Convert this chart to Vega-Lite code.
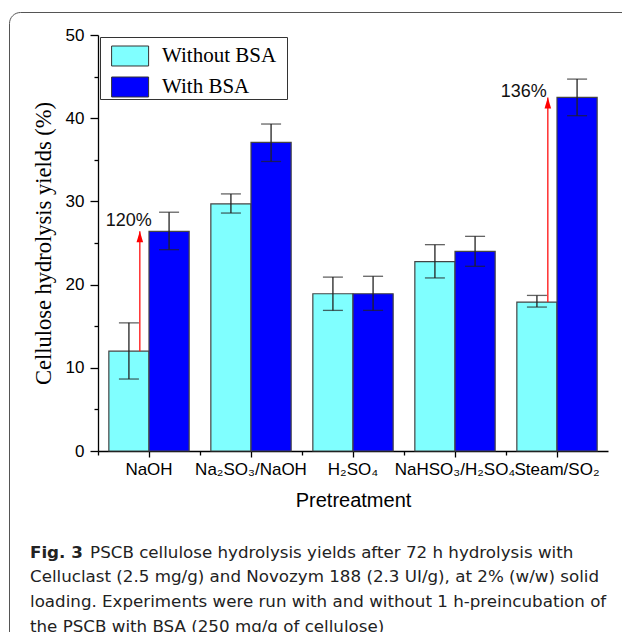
{
  "$schema": "https://vega.github.io/schema/vega-lite/v6.json",
  "width": 510,
  "height": 416,
  "autosize": {"type": "none"},
  "padding": {"left": 98, "top": 35, "right": 14, "bottom": 181},
  "background": "white",
  "datasets": {
    "bars": [
      {"pretreatment": "NaOH", "series": "Without BSA", "value": 12.0, "low": 8.65, "high": 15.4},
      {"pretreatment": "NaOH", "series": "With BSA", "value": 26.4, "low": 24.2, "high": 28.7},
      {"pretreatment": "Na₂SO₃/NaOH", "series": "Without BSA", "value": 29.7, "low": 28.6, "high": 30.9},
      {"pretreatment": "Na₂SO₃/NaOH", "series": "With BSA", "value": 37.1, "low": 34.8, "high": 39.3},
      {"pretreatment": "H₂SO₄", "series": "Without BSA", "value": 18.9, "low": 16.9, "high": 20.9},
      {"pretreatment": "H₂SO₄", "series": "With BSA", "value": 18.9, "low": 16.9, "high": 21.0},
      {"pretreatment": "NaHSO₃/H₂SO₄", "series": "Without BSA", "value": 22.75, "low": 20.8, "high": 24.8},
      {"pretreatment": "NaHSO₃/H₂SO₄", "series": "With BSA", "value": 24.0, "low": 22.2, "high": 25.8},
      {"pretreatment": "Steam/SO₂", "series": "Without BSA", "value": 17.9, "low": 17.3, "high": 18.7},
      {"pretreatment": "Steam/SO₂", "series": "With BSA", "value": 42.5, "low": 40.3, "high": 44.7}
    ],
    "notes": [
      {"pretreatment": "NaOH", "from": 12.0, "to": 26.4, "label": "120%", "label_y": 27.0},
      {"pretreatment": "Steam/SO₂", "from": 17.9, "to": 42.5, "label": "136%", "label_y": 42.5}
    ]
  },
  "title": {
    "text": "Fig. 3",
    "subtitle": [
      "\u200b\u2003\u2003\u2003\u2002\u200aPSCB cellulose hydrolysis yields after 72 h hydrolysis with",
      "Celluclast (2.5 mg/g) and Novozym 188 (2.3 UI/g), at 2% (w/w) solid",
      "loading. Experiments were run with and without 1 h-preincubation of",
      "the PSCB with BSA (250 mg/g of cellulose)"
    ],
    "orient": "bottom",
    "anchor": "start",
    "frame": "group",
    "dx": -68,
    "offset": -150,
    "font": "DejaVu Sans",
    "fontSize": 16.7,
    "fontWeight": "bold",
    "color": "#222",
    "subtitleFont": "DejaVu Sans",
    "subtitleFontSize": 16.7,
    "subtitleFontWeight": "normal",
    "subtitleColor": "#222",
    "subtitleLineHeight": 24.8,
    "subtitlePadding": -16.7
  },
  "layer": [
    {
      "data": {"name": "bars"},
      "mark": {"type": "bar", "stroke": "#444", "strokeWidth": 1.2},
      "encoding": {
        "x": {
          "field": "pretreatment", "type": "nominal", "sort": null,
          "scale": {"paddingInner": 0, "paddingOuter": 0},
          "axis": {
            "orient": "bottom", "title": "Pretreatment", "labelAngle": 0,
            "tickSize": 6, "labelPadding": 4, "labelFontSize": 17,
            "titleFontSize": 20, "titleFontWeight": "normal", "titlePadding": 13,
            "labelOverlap": false, "labelBound": false, "labelFlush": false,
            "domainColor": "#000", "tickColor": "#000", "labelColor": "#000", "titleColor": "#000",
            "domainWidth": 1.3, "tickWidth": 1.3
          }
        },
        "xOffset": {"field": "series", "type": "nominal", "sort": null, "scale": {"domain": ["Without BSA", "With BSA"], "paddingOuter": 0.27, "paddingInner": 0}},
        "y": {
          "field": "value", "type": "quantitative",
          "scale": {"domain": [0, 50], "nice": false},
          "axis": {
            "title": "Cellulose hydrolysis yields (%)",
            "values": [0, 5, 10, 15, 20, 25, 30, 35, 40, 45, 50],
            "labelExpr": "datum.value % 10 === 0 ? datum.label : ''",
            "tickSize": {"condition": {"test": "datum.value % 10 === 0", "value": 8}, "value": 4},
            "grid": false, "labelPadding": 6, "labelFontSize": 17,
            "titleFont": "Liberation Serif", "titleFontSize": 22.5, "titleFontWeight": "normal", "titlePadding": 10,
            "domainColor": "#000", "tickColor": "#000", "labelColor": "#000", "titleColor": "#000",
            "domainWidth": 1.3, "tickWidth": 1.3
          }
        },
        "fill": {
          "field": "series", "type": "nominal", "sort": null,
          "scale": {"domain": ["Without BSA", "With BSA"], "range": ["#80FFFF", "#0000FF"]},
          "legend": {
            "title": null, "orient": "none", "legendX": 2, "legendY": 2, "padding": 0,
            "symbolType": "M-0.4,-0.54L1.6,-0.54L1.6,0.54L-0.4,0.54Z", "symbolSize": 1369,
            "symbolStrokeColor": "#333", "symbolStrokeWidth": 1,
            "labelFont": "Liberation Serif", "labelFontSize": 21, "labelColor": "#000",
            "labelExpr": "datum.label + '\u2002\u200b'",
            "labelOffset": 24, "rowPadding": -2,
            "strokeColor": "#333", "fillColor": "white", "cornerRadius": 0
          }
        }
      }
    },
    {
      "data": {"name": "bars"},
      "mark": {"type": "rule", "color": "#222", "strokeWidth": 1.3},
      "encoding": {
        "x": {
          "field": "pretreatment", "type": "nominal", "sort": null,
          "axis": {
            "orient": "bottom", "bandPosition": 0, "labels": false, "domain": false, "title": null,
            "tickSize": 4, "tickColor": "#000", "tickWidth": 1.3
          }
        },
        "xOffset": {"field": "series", "type": "nominal", "sort": null},
        "y": {"field": "low", "type": "quantitative"},
        "y2": {"field": "high"}
      }
    },
    {
      "data": {"name": "bars"},
      "mark": {"type": "tick", "color": "#222", "size": 20, "thickness": 1.3},
      "encoding": {
        "x": {"field": "pretreatment", "type": "nominal", "sort": null, "axis": null},
        "xOffset": {"field": "series", "type": "nominal", "sort": null},
        "y": {"field": "low", "type": "quantitative"}
      }
    },
    {
      "data": {"name": "bars"},
      "mark": {"type": "tick", "color": "#222", "size": 20, "thickness": 1.3},
      "encoding": {
        "x": {"field": "pretreatment", "type": "nominal", "sort": null, "axis": null},
        "xOffset": {"field": "series", "type": "nominal", "sort": null},
        "y": {"field": "high", "type": "quantitative"}
      }
    },
    {
      "data": {"name": "notes"},
      "mark": {"type": "rule", "color": "#FF2020", "strokeWidth": 1.4},
      "encoding": {
        "x": {"field": "pretreatment", "type": "nominal", "sort": null, "bandPosition": 0.41, "axis": null},
        "y": {"field": "from", "type": "quantitative"},
        "y2": {"field": "to"}
      }
    },
    {
      "data": {"name": "notes"},
      "mark": {"type": "point", "shape": "M0,0L0.6,2L-0.6,2Z", "size": 121, "filled": true, "color": "#FF0000", "opacity": 1},
      "encoding": {
        "x": {"field": "pretreatment", "type": "nominal", "sort": null, "bandPosition": 0.41, "axis": null},
        "y": {"field": "to", "type": "quantitative"}
      }
    },
    {
      "data": {"name": "notes"},
      "transform": [{"filter": "datum.pretreatment === 'NaOH'"}],
      "mark": {"type": "text", "align": "right", "baseline": "alphabetic", "dx": 12, "font": "Liberation Sans", "fontSize": 18, "color": "#111"},
      "encoding": {
        "x": {"field": "pretreatment", "type": "nominal", "sort": null, "bandPosition": 0.41, "axis": null},
        "y": {"field": "label_y", "type": "quantitative"},
        "text": {"field": "label"}
      }
    },
    {
      "data": {"name": "notes"},
      "transform": [{"filter": "datum.pretreatment !== 'NaOH'"}],
      "mark": {"type": "text", "align": "right", "baseline": "alphabetic", "dx": -1, "font": "Liberation Sans", "fontSize": 18, "color": "#111"},
      "encoding": {
        "x": {"field": "pretreatment", "type": "nominal", "sort": null, "bandPosition": 0.41, "axis": null},
        "y": {"field": "label_y", "type": "quantitative"},
        "text": {"field": "label"}
      }
    },
    {
      "data": {"name": "notes"},
      "mark": {"type": "point", "opacity": 0},
      "encoding": {
        "x": {"field": "pretreatment", "type": "nominal", "sort": null, "axis": null},
        "y": {"field": "to", "type": "quantitative"},
        "shape": {
          "datum": "frame",
          "legend": {
            "title": null, "orient": "none", "legendX": -89, "legendY": -23, "padding": 340,
            "symbolOpacity": 0, "symbolSize": 1, "labelOpacity": 0, "labelFontSize": 1, "labelExpr": "''",
            "strokeColor": "#555", "cornerRadius": 11
          }
        }
      }
    }
  ],
  "resolve": {"axis": {"x": "independent"}},
  "config": {
    "view": {"stroke": null},
    "font": "Liberation Sans",
    "axis": {"labelFont": "Liberation Sans", "titleFont": "Liberation Sans"}
  }
}
